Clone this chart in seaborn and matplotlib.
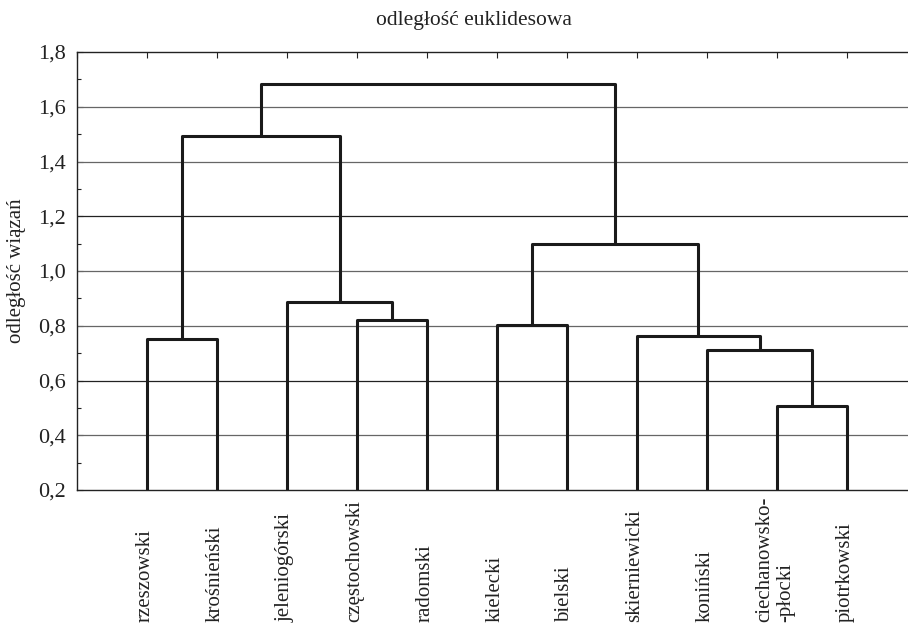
import pandas as pd
import matplotlib
matplotlib.use("Agg")
import matplotlib.pyplot as plt
import matplotlib.transforms as mtransforms
import seaborn as sns

# -----------------------------
# DATA
# -----------------------------
leaves = ["rzeszowski", "krośnieński", "jeleniogórski", "częstochowski",
          "radomski", "kielecki", "bielski", "skierniewicki", "koniński",
          "ciechanowsko-\n-płocki", "piotrkowski"]

# linkage: node ids 0..10 are leaves, new nodes numbered from 11
merge_left = [0, 3, 2, 11, 5, 9, 8, 7, 15, 14]
merge_right = [1, 4, 12, 13, 6, 10, 16, 17, 18, 19]
merge_height = [0.752, 0.822, 0.888, 1.494, 0.802, 0.506, 0.713, 0.764, 1.097, 1.684]

yticks = [0.2, 0.4, 0.6, 0.8, 1.0, 1.2, 1.4, 1.6, 1.8]
ytick_labels = ["0,2", "0,4", "0,6", "0,8", "1,0", "1,2", "1,4", "1,6", "1,8"]

TITLE = "odległość euklidesowa"
YLABEL = "odległość wiązań"

# -----------------------------
# BUILD LINK SEGMENTS
# -----------------------------
base = yticks[0]
pos = {i: i + 1 for i in range(len(leaves))}
hgt = {i: base for i in range(len(leaves))}
rows = []
for k, (a, b, h) in enumerate(zip(merge_left, merge_right, merge_height)):
    node = len(leaves) + k
    xs = [pos[a], pos[a], pos[b], pos[b]]
    ys = [hgt[a], h, h, hgt[b]]
    for j, (x, y) in enumerate(zip(xs, ys)):
        rows.append({"link": k, "order": j, "x": x, "y": y})
    pos[node] = (pos[a] + pos[b]) / 2
    hgt[node] = h
links = pd.DataFrame(rows)

# -----------------------------
# PLOT
# -----------------------------
sns.set_style("white")
plt.rcParams["font.family"] = ["Liberation Serif", "DejaVu Serif"]
plt.rcParams["font.size"] = 15

fig = plt.figure(figsize=(9.08, 6.28), dpi=100)
ax = fig.add_axes([77 / 908, 1 - 490 / 628, 1 - 77 / 908, (490 - 52) / 628])

grid_colors = ["#666666", "#222222", "#666666", "#666666", "#222222", "#666666", "#666666"]
for y, c in zip(yticks[1:-1], grid_colors):
    ax.axhline(y, color=c, lw=0.9, zorder=1)

sns.lineplot(data=links, x="x", y="y", units="link", estimator=None, sort=False,
             color="#1a1a1a", lw=2.2, ax=ax, legend=False, zorder=3)

ax.set_xlim(0, (908 - 77) / 70)
ax.set_ylim(yticks[0], yticks[-1])
ax.set_yticks(yticks)
ax.set_yticklabels(ytick_labels)
ax.set_yticks([v + 0.1 for v in yticks[:-1]], minor=True)
ax.tick_params(axis="y", which="both", direction="in", left=True, length=4,
               width=0.8, pad=8, colors="#222222", labelsize=16)
ax.tick_params(axis="y", which="minor", length=3)

ax.set_xticks(range(0, 12))
ax.set_xticklabels([])
ax.tick_params(axis="x", which="both", bottom=False, top=True, direction="in",
               length=4, width=0.8, colors="#222222")

for side in ["left", "top", "bottom"]:
    ax.spines[side].set_color("#222222")
    ax.spines[side].set_linewidth(1.0)
ax.spines["right"].set_visible(False)

ax.set_xlabel("")
ax.set_ylabel("")

# leaf labels, anchored at their start near bottom of figure
trans = mtransforms.blended_transform_factory(ax.transData, fig.transFigure)
for i, name in enumerate(leaves):
    ax.text(i + 1 - 0.03, 1 - 622 / 628, name, rotation=90, ha="center", va="bottom",
            multialignment="left", transform=trans, fontsize=15,
            color="#222222", linespacing=1.15, clip_on=False)

fig.text(474 / 908, 1 - 20 / 628, TITLE, ha="center", va="center",
         fontsize=15.5, color="#222222")
fig.text(17 / 908, 1 - 271 / 628, YLABEL, rotation=90, ha="center",
         va="center", fontsize=15, color="#222222")

fig.savefig("out.png", dpi=100)
plt.close(fig)
